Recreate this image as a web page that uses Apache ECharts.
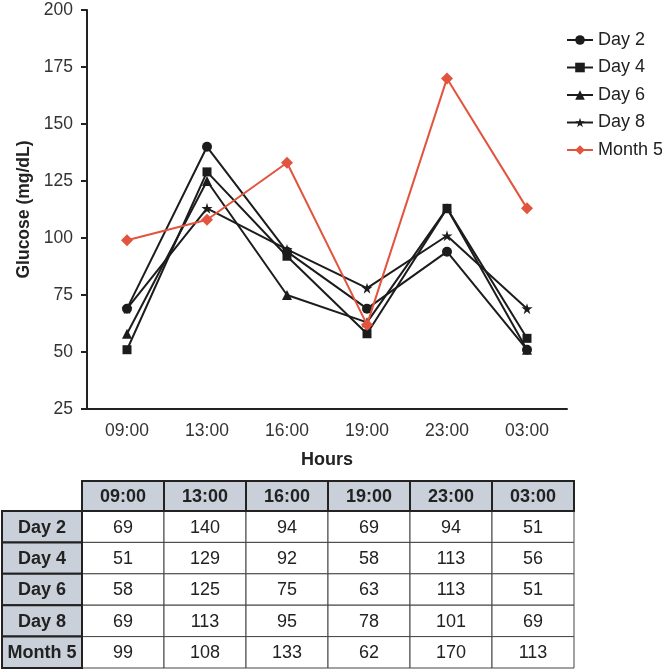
<!DOCTYPE html>
<html>
<head>
<meta charset="utf-8">
<script src="https://cdn.jsdelivr.net/npm/echarts@6/dist/echarts.min.js"></script>
<style>
html,body{margin:0;padding:0;background:#fff;}
#chart{width:662px;height:669px;}
</style>
</head>
<body>
<div id="chart"></div>
<script>
// ---- data ----
var hours = ['09:00', '13:00', '16:00', '19:00', '23:00', '03:00'];
var seriesNames = ['Day 2', 'Day 4', 'Day 6', 'Day 8', 'Month 5'];
var day2   = [69, 140, 94, 69, 94, 51];
var day4   = [51, 129, 92, 58, 113, 56];
var day6   = [58, 125, 75, 63, 113, 51];
var day8   = [69, 113, 95, 78, 101, 69];
var month5 = [99, 108, 133, 62, 170, 113];
var yTicks = [25, 50, 75, 100, 125, 150, 175, 200];

// ---- style ----
var BLACK = '#1c1c1c';
var RED = '#e2543e';
var FONT = 'Liberation Sans, Arial, sans-serif';
var STAR = 'path://M50,0 L61,35 L98,35 L68,57 L79,92 L50,70 L21,92 L32,57 L2,35 L39,35 Z';

var allData = [day2, day4, day6, day8, month5];
var symbols = ['circle', 'rect', 'triangle', STAR, 'diamond'];
var symbolSizes = [10, 9, 10, 11, 12];
var colors = [BLACK, BLACK, BLACK, BLACK, RED];

var series = seriesNames.map(function (name, i) {
  return {
    name: name,
    type: 'line',
    data: allData[i],
    symbol: symbols[i],
    symbolSize: symbolSizes[i],
    showAllSymbol: true,
    color: colors[i],
    lineStyle: { color: colors[i], width: 2 },
    itemStyle: { color: colors[i] },
    z: i === 4 ? 3 : 2,
    animation: false
  };
});

// ---- table built from the data arrays ----
var tableLeft = 2, headW = 80, colW = 82, tableTop = 481, headH = 30, rowH = 31.4;
var graphics = [];
var HEAD_BG = '#c9d0d9';
function cell(x, y, w, h, fill, stroke, lw, text, bold) {
  graphics.push({
    type: 'rect', shape: { x: x, y: y, width: w, height: h },
    style: { fill: fill, stroke: stroke, lineWidth: lw }, z: lw > 1 ? 11 : 10, silent: true
  });
  graphics.push({
    type: 'text', x: x + w / 2, y: y + h / 2 + 1, z: 12, silent: true,
    style: {
      text: text, align: 'center', verticalAlign: 'middle', fill: '#222',
      font: (bold ? 'bold ' : '') + '18px ' + FONT
    }
  });
}
var c0 = tableLeft + headW;
allData.forEach(function (arr, r) {
  arr.forEach(function (v, c) {
    cell(c0 + c * colW, tableTop + headH + r * rowH, colW, rowH, '#fff', '#444', 1, String(v), false);
  });
});
hours.forEach(function (h, c) {
  cell(c0 + c * colW, tableTop, colW, headH, HEAD_BG, '#222', 2, h, true);
});
seriesNames.forEach(function (n, r) {
  cell(tableLeft, tableTop + headH + r * rowH, headW, rowH, HEAD_BG, '#222', 2, n, true);
});

var chart = echarts.init(document.getElementById('chart'), null, { renderer: 'canvas' });
chart.setOption({
  animation: false,
  backgroundColor: '#fff',
  textStyle: { fontFamily: FONT },
  grid: { left: 87, right: 95, top: 10, bottom: 260, containLabel: false },
  legend: {
    orient: 'vertical',
    left: 561,
    top: 26,
    itemWidth: 26,
    itemHeight: 12,
    itemGap: 9.5,
    textStyle: { fontSize: 18, color: '#222', fontFamily: FONT },
    data: seriesNames
  },
  xAxis: {
    type: 'category',
    data: hours,
    boundaryGap: true,
    name: 'Hours',
    nameLocation: 'middle',
    nameGap: 42,
    nameTextStyle: { fontSize: 18, fontWeight: 'bold', color: '#222', fontFamily: FONT },
    axisLine: { lineStyle: { color: '#222', width: 2 } },
    axisTick: { alignWithLabel: true, length: 6, lineStyle: { color: '#222', width: 2 } },
    axisLabel: { fontSize: 17.5, color: '#333', margin: 13, fontFamily: FONT },
    splitLine: { show: false }
  },
  yAxis: {
    type: 'value',
    min: yTicks[0],
    max: yTicks[yTicks.length - 1],
    interval: 25,
    name: 'Glucose (mg/dL)',
    nameLocation: 'middle',
    nameGap: 53,
    nameRotate: 90,
    nameTextStyle: { fontSize: 17.5, fontWeight: 'bold', color: '#222', fontFamily: FONT },
    axisLine: { show: true, lineStyle: { color: '#222', width: 2 } },
    axisTick: { show: true, length: 6, lineStyle: { color: '#222', width: 2 } },
    axisLabel: { fontSize: 17.5, color: '#333', margin: 14, fontFamily: FONT },
    splitLine: { show: false }
  },
  series: series,
  graphic: graphics
});
</script>
</body>
</html>
